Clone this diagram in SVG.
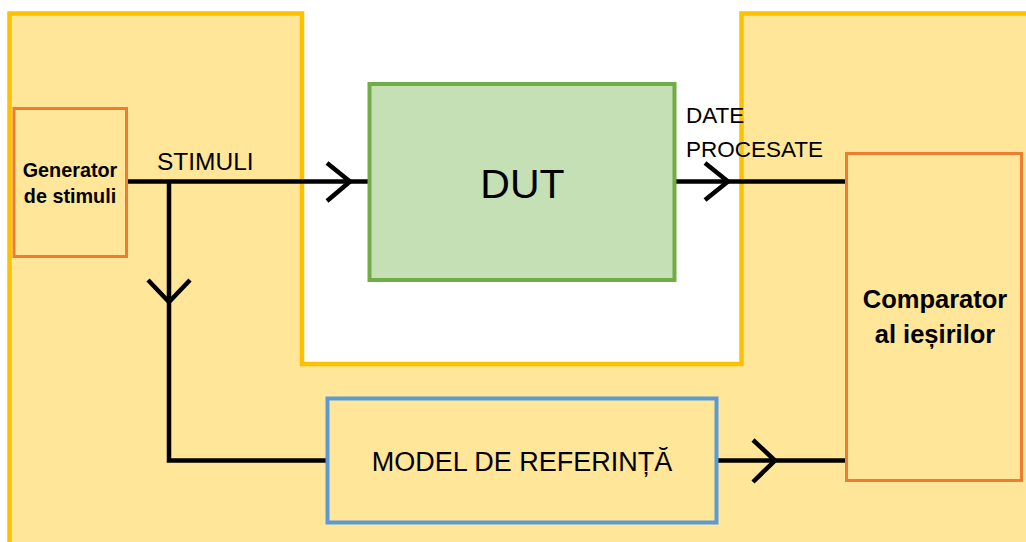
<svg xmlns="http://www.w3.org/2000/svg" width="1026" height="542" viewBox="0 0 1026 542">
  <style>
    .lbl { font-family: "Liberation Sans", Arial, sans-serif; fill: #000; }
    .bold { font-weight: bold; }
    .wire { fill: none; stroke: #000; stroke-width: 4.5; stroke-linejoin: miter; }
    .chev { fill: none; stroke: #000; stroke-width: 4.5; stroke-linecap: butt; stroke-linejoin: miter; }
    .box-yellow { fill: #FFE699; }
  </style>
  <rect x="0" y="0" width="1026" height="542" fill="#FFFFFF"/>

  <!-- testbench area (yellow) with cut-out around the DUT -->
  <g id="testbench">
    <path d="M9.5,13.5 H302 V364 H741.5 V13.5 H1040 V560 H9.5 Z" fill="#FFE699" stroke="#FFC000" stroke-width="4.5"/>
  </g>

  <!-- connectors -->
  <g id="connectors">
    <path class="wire" d="M127,181.5 H370"/>
    <path class="chev" d="M327,163 L350,181.5 L327,201"/>
    <path class="wire" d="M169,181.5 V460.5 H328"/>
    <path class="chev" d="M148,280 L169,302 L190,280"/>
    <path class="wire" d="M675,181.5 H847"/>
    <path class="chev" d="M705,163 L728,181.5 L705,200"/>
    <path class="wire" d="M717,460.5 H847"/>
    <path class="chev" d="M753,440 L775,460.5 L753,482"/>
  </g>

  <g id="generator">
    <rect x="14" y="108.5" width="112.5" height="148" class="box-yellow" stroke="#ED7D31" stroke-width="3"/>
    <text class="lbl bold" x="70" y="177" font-size="19.8" text-anchor="middle">Generator</text>
    <text class="lbl bold" x="70" y="203" font-size="19.8" text-anchor="middle">de stimuli</text>
  </g>

  <g id="stimuli-label">
    <text class="lbl" x="157" y="170" font-size="24.5">STIMULI</text>
  </g>

  <g id="dut">
    <rect x="369.5" y="84" width="305" height="196" fill="#C5E0B4" stroke="#70AD47" stroke-width="4"/>
    <text class="lbl" x="522.5" y="197.5" font-size="41" text-anchor="middle">DUT</text>
  </g>

  <g id="processed-label">
    <text class="lbl" x="686" y="123" font-size="22.5">DATE</text>
    <text class="lbl" x="686" y="157" font-size="22.5">PROCESATE</text>
  </g>

  <g id="reference-model">
    <rect x="327.5" y="398.5" width="389" height="124" class="box-yellow" stroke="#5B9BD5" stroke-width="4"/>
    <text class="lbl" x="522" y="471" font-size="27" text-anchor="middle">MODEL DE REFERINȚĂ</text>
  </g>

  <g id="comparator">
    <rect x="846.5" y="153.5" width="175" height="327" class="box-yellow" stroke="#ED7D31" stroke-width="3"/>
    <text class="lbl bold" x="935" y="308" font-size="25.5" text-anchor="middle">Comparator</text>
    <text class="lbl bold" x="935" y="343" font-size="25.5" text-anchor="middle">al ieșirilor</text>
  </g>
</svg>
